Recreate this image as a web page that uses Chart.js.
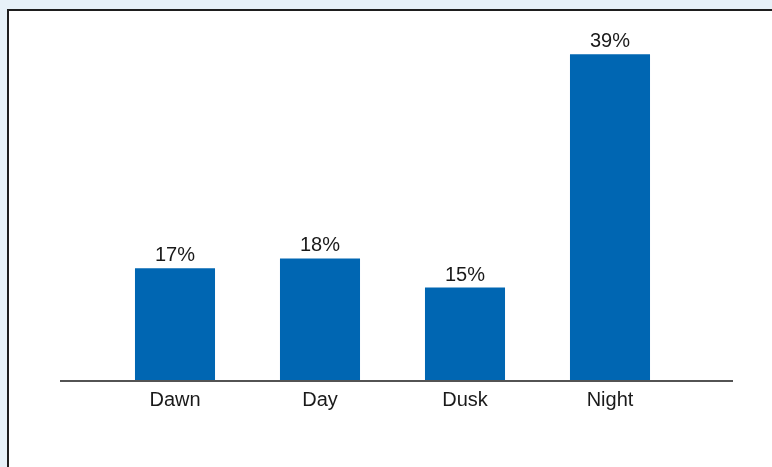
<!DOCTYPE html>
<html>
<head>
<meta charset="utf-8">
<title>Dawn / Day / Dusk / Night</title>
<script src="https://cdn.jsdelivr.net/npm/chart.js@4/dist/chart.umd.min.js"></script>
<style>
    html, body { margin: 0; padding: 0; }
    body {
        width: 772px;
        height: 467px;
        overflow: hidden;
        position: relative;
        background: #e7f1f8;
    }
    .panel {
        position: absolute;
        left: 7px;
        top: 9px;
        width: 800px;
        height: 500px;
        background: #ffffff;
        border-left: 2px solid #1e1e1e;
        border-top: 2px solid #1e1e1e;
    }
    #chart {
        position: absolute;
        left: 0;
        top: 0;
    }
</style>
</head>
<body>
<div class="panel"></div>
<canvas id="chart" width="772" height="467"></canvas>
<script>
// Données
const categories = ['Dawn', 'Day', 'Dusk', 'Night'];
const shares = [17, 18, 15, 39];

const barColor = '#0066b2';
const textColor = '#1a1a1a';
const fontFamily = '"Liberation Sans", Arial, Helvetica, sans-serif';

// Étiquettes de valeur au-dessus des barres
const barLabels = {
    id: 'barLabels',
    afterDatasetsDraw(chart) {
        const ctx = chart.ctx;
        const meta = chart.getDatasetMeta(0);
        ctx.save();
        ctx.fillStyle = textColor;
        ctx.font = '20px ' + fontFamily;
        ctx.textAlign = 'center';
        ctx.textBaseline = 'alphabetic';
        meta.data.forEach((bar, i) => {
            ctx.fillText(shares[i] + '%', bar.x, bar.y - 7);
        });
        ctx.restore();
    }
};

// Ligne de base, plus large que la zone des catégories
const baseLine = {
    id: 'baseLine',
    afterDraw(chart) {
        const { ctx, chartArea } = chart;
        ctx.save();
        ctx.strokeStyle = '#1a1a1a';
        ctx.lineWidth = 1.5;
        ctx.beginPath();
        ctx.moveTo(chartArea.left - 42.5, chartArea.bottom + 1);
        ctx.lineTo(chartArea.right + 50.5, chartArea.bottom + 1);
        ctx.stroke();
        ctx.restore();
    }
};

new Chart(document.getElementById('chart'), {
    type: 'bar',
    data: {
        labels: categories,
        datasets: [{
            data: shares,
            backgroundColor: barColor,
            borderWidth: 0,
            categoryPercentage: 1,
            barPercentage: 0.552
        }]
    },
    options: {
        responsive: false,
        animation: false,
        layout: {
            padding: { left: 102.5, right: 89.5, top: 25, bottom: 47 }
        },
        plugins: {
            legend: { display: false },
            tooltip: { enabled: false }
        },
        scales: {
            x: {
                grid: { display: false, drawTicks: false },
                border: { display: false },
                ticks: {
                    color: textColor,
                    padding: 8,
                    font: { family: fontFamily, size: 20 }
                }
            },
            y: {
                display: false,
                min: 5.5,
                max: 42
            }
        }
    },
    plugins: [barLabels, baseLine]
});
</script>
</body>
</html>
